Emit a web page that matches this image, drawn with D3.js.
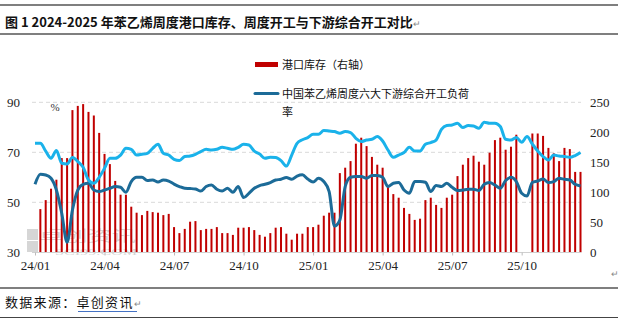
<!DOCTYPE html>
<html><head><meta charset="utf-8">
<script src="https://cdn.jsdelivr.net/npm/d3@7"></script>
<style>
body{margin:0;background:#fff;}
svg{display:block;}
text{font-family:"Liberation Serif","Noto Sans CJK SC",serif;}
.cjk{font-family:"Noto Sans CJK SC",sans-serif;}
</style></head>
<body>
<svg id="c" width="618" height="323"></svg>
<script>
// ---- data ----
const startDate = "2024-01-05";           // first weekly category (Friday)
const weekCount = 103;
const tickLabels = ["24/01","24/04","24/07","24/10","25/01","25/04","25/07","25/10"];
const leftTicks = [30,50,70,90];
const rightTicks = [0,50,100,150,200,250];
const seriesNames = ["港口库存（右轴）","中国苯乙烯周度六大下游综合开工负荷率","苯乙烯周度开工率"];

// 港口库存（右轴）, 千吨 — null = no data that week
const portInventory = [null,
72,87,106,121,157,157,237,244,247,234,
228,199,164,147,119,96,96,76,66,62,
69,67,66,62,64,42,32,39,51,52,
37,39,39,42,32,32,29,41,41,42,
37,29,26,32,41,42,31,21,31,31,
42,42,46,
61,66,66,132,141,152,181,191,177,159,
146,141,112,97,91,74,64,54,56,87,
91,79,74,91,96,127,146,157,161,151,
146,166,187,191,171,176,196,
null,null,
198,198,194,174,165,152,174,172,134,134];

// 六大下游综合开工负荷率 (%)
const downstreamRate = [
57.2,61.2,60.9,59.6,54.9,45.6,34.0,46.9,54.9,57.2,
57.6,54.9,54.3,54.9,55.6,56.3,56.0,54.0,58.3,60.0,
60.0,58.7,58.9,58.1,58.9,58.5,57.3,56.3,55.6,55.5,
55.3,54.5,56.3,56.9,55.2,54.5,55.6,54.0,56.3,51.9,
53.6,55.6,56.7,57.2,57.9,58.9,59.2,59.9,59.2,60.5,
61.0,59.3,58.1,59.6,58.3,54.3,40.5,42.9,56.3,60.0,
60.3,60.3,59.6,60.7,60.7,60.0,56.3,57.6,57.9,54.9,
53.6,58.3,58.3,58.0,54.3,56.7,56.3,57.6,56.0,54.7,
54.9,55.2,55.2,54.7,57.2,57.9,56.9,55.6,58.7,60.0,
58.3,53.6,52.5,58.0,58.5,59.3,57.9,58.3,59.6,59.2,
58.9,57.2,56.5];

// 苯乙烯周度开工率 (%)
const styreneRate = [
73.6,73.6,70.5,67.6,70.7,65.6,65.3,67.9,66.3,64.0,
58.9,57.6,60.0,63.6,67.6,67.6,68.9,71.6,71.2,68.9,
69.2,69.6,71.6,73.2,69.6,68.9,67.2,66.7,68.3,68.5,
69.2,70.3,71.2,70.9,71.2,72.0,71.6,71.2,72.0,73.2,
72.9,70.5,69.3,67.6,68.0,67.9,66.7,64.5,68.9,73.6,
75.0,75.9,77.2,77.2,78.7,78.5,78.3,77.6,78.3,77.9,
75.6,74.3,74.9,75.2,76.3,74.5,70.9,68.0,68.9,69.9,
72.0,70.5,70.5,73.2,73.9,74.9,79.2,80.7,80.9,81.6,
79.9,80.7,80.5,79.6,82.0,81.6,81.6,80.3,75.2,74.9,
75.9,74.0,76.3,73.3,70.5,68.3,66.9,68.9,68.5,68.3,
68.0,68.7,69.9];

// ---- chart ----
const svg = d3.select("#c");
const cats = d3.range(weekCount).map(i => d3.timeDay.offset(new Date(startDate+"T00:00:00"), i*7));
const fmt = d3.timeFormat("%y/%m");
const tickDates = tickLabels.map(l => cats.find(d => fmt(d) === l));

const x = d3.scaleTime().domain([cats[0], cats[weekCount-1]]).range([35, 580.5]);
const yL = d3.scaleLinear().domain([30,90]).range([252.3,102.3]);
const yR = d3.scaleLinear().domain([0,250]).range([252.3,102.3]);

// frame lines
svg.append("line").attr("x1",0).attr("x2",618).attr("y1",5).attr("y2",5).attr("stroke","#000").attr("stroke-width",1.2);
svg.append("line").attr("x1",0).attr("x2",618).attr("y1",34).attr("y2",34).attr("stroke","#000").attr("stroke-width",1.2);
svg.append("line").attr("x1",0).attr("x2",618).attr("y1",288).attr("y2",288).attr("stroke","#000").attr("stroke-width",1.2);
svg.append("line").attr("x1",0).attr("x2",618).attr("y1",317.5).attr("y2",317.5).attr("stroke","#444").attr("stroke-width",1);

// title
const t = svg.append("text").attr("class","cjk").attr("x",5).attr("y",27)
  .attr("font-size",13).attr("font-weight","bold").attr("fill","#111");
t.append("tspan").text("图 1 2024-2025 年苯乙烯周度港口库存、周度开工与下游综合开工对比");
t.append("tspan").attr("font-size",9).attr("font-weight","normal").attr("fill","#888").text("↵");

// watermark
const wm = svg.append("g").attr("fill","#d6d6d6");
wm.append("rect").attr("x",27).attr("y",229).attr("width",11).attr("height",11);
wm.append("rect").attr("x",27).attr("y",241).attr("width",11).attr("height",11);
wm.append("text").attr("class","cjk").attr("x",39).attr("y",241).attr("font-size",15)
  .attr("textLength",97).attr("lengthAdjust","spacingAndGlyphs").text("卓创资讯");
wm.append("text").attr("x",55).attr("y",254.5).attr("font-size",8.5).attr("font-family","Liberation Sans")
  .attr("textLength",82).attr("lengthAdjust","spacingAndGlyphs").text("SCI99.COM");

// gridlines
svg.append("g").selectAll("line").data(leftTicks.filter(v=>v>30)).join("line")
  .attr("x1",32).attr("x2",581).attr("y1",d=>yL(d)).attr("y2",d=>yL(d))
  .attr("stroke","#d9d9d9").attr("stroke-width",1).attr("stroke-dasharray","4,3");

// bars
svg.append("g").selectAll("rect").data(portInventory.map((v,i)=>({v,d:cats[i]})).filter(o=>o.v!==null)).join("rect")
  .attr("x",o=>x(o.d)-1).attr("width",2)
  .attr("y",o=>yR(o.v)).attr("height",o=>yR(0)-yR(o.v))
  .attr("fill","#c00000");

// x axis line
svg.append("line").attr("x1",32).attr("x2",581).attr("y1",252.5).attr("y2",252.5).attr("stroke","#d0d0d0").attr("stroke-width",1);

// lines
const line = (arr, scale) => d3.line().x((d,i)=>x(cats[i])).y(d=>scale(d)).curve(d3.curveMonotoneX)(arr);
svg.append("path").attr("d",line(downstreamRate,yL)).attr("fill","none").attr("stroke","#1c6b98").attr("stroke-width",3).attr("stroke-linejoin","round");
svg.append("path").attr("d",line(styreneRate,yL)).attr("fill","none").attr("stroke","#1ab2ea").attr("stroke-width",3).attr("stroke-linejoin","round");

// axes
const axL = svg.append("g").attr("transform","translate(20,0)")
  .call(d3.axisLeft(yL).tickValues(leftTicks).tickSize(0).tickPadding(0));
const axR = svg.append("g").attr("transform","translate(590,0)")
  .call(d3.axisRight(yR).tickValues(rightTicks).tickSize(0).tickPadding(0));
const axB = svg.append("g").attr("transform","translate(0,252.5)")
  .call(d3.axisBottom(x).tickValues(tickDates).tickFormat((d,i)=>tickLabels[i]).tickSize(3).tickPadding(5));
[axL,axR,axB].forEach(a=>{
  a.select(".domain").remove();
  a.selectAll("text").attr("font-family","Liberation Serif").attr("font-size",13).attr("fill","#222");
  a.selectAll(".tick line").attr("stroke","#bbb");
});

// unit
svg.append("text").attr("x",55).attr("y",111).attr("text-anchor","middle").attr("font-size",11).attr("fill","#333").text("%");

// legend
svg.append("rect").attr("x",255).attr("y",62).attr("width",23).attr("height",5).attr("fill","#c00000");
svg.append("text").attr("class","cjk").attr("x",282).attr("y",69).attr("font-size",11).attr("fill","#111").text(seriesNames[0]);
svg.append("line").attr("x1",255).attr("x2",278).attr("y1",93.5).attr("y2",93.5).attr("stroke","#1c6b98").attr("stroke-width",3).attr("stroke-linecap","round");
svg.append("text").attr("class","cjk").attr("x",282).attr("y",98).attr("font-size",11).attr("fill","#111").text(seriesNames[1].slice(0,-1));
svg.append("text").attr("class","cjk").attr("x",282).attr("y",116).attr("font-size",11).attr("fill","#111").text(seriesNames[1].slice(-1));

// right paragraph mark
svg.append("text").attr("x",611).attr("y",277).attr("font-size",9).attr("fill","#888").text("↵");

// source
const s = svg.append("text").attr("class","cjk").attr("x",5).attr("y",307).attr("font-size",13).attr("letter-spacing",1.3).attr("fill","#111");
s.append("tspan").text("数据来源：");
s.append("tspan").text("卓创资讯");
s.append("tspan").attr("font-size",9).attr("fill","#888").text("↵");
svg.append("line").attr("x1",78).attr("x2",137).attr("y1",311.5).attr("y2",311.5).attr("stroke","#4472c4").attr("stroke-width",1);
</script>
</body></html>
